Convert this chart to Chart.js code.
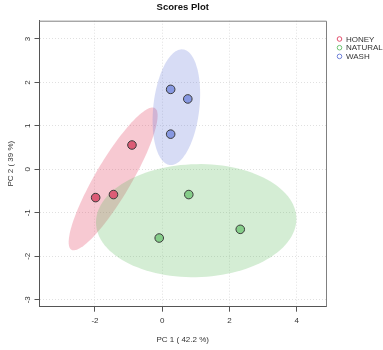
<!DOCTYPE html>
<html>
<head>
<meta charset="utf-8">
<script src="https://cdn.jsdelivr.net/npm/chart.js@4"></script>
<style>
  html, body { margin: 0; padding: 0; background: #fff; }
  #wrap { width: 383px; height: 350px; }
</style>
</head>
<body>
<div id="wrap"><canvas id="scores"></canvas></div>
<script>
// groups and their scores
const groups = ['HONEY', 'NATURAL', 'WASH'];
const honeyPc1 = [-0.90, -1.98, -1.45];
const honeyPc2 = [0.56, -0.65, -0.58];
const naturalPc1 = [0.79, 2.32, -0.09];
const naturalPc2 = [-0.58, -1.38, -1.58];
const washPc1 = [0.25, 0.76, 0.25];
const washPc2 = [1.84, 1.62, 0.81];

// confidence ellipses (centre + two conjugate semi-axes, data units)
const ellipseCx = [-1.46, 1.01, 0.42];
const ellipseCy = [-0.22, -1.18, 1.43];
const ellipseA = [[1.24, 1.63], [2.98, 0.04], [0.196, 1.33]];
const ellipseB = [[0.46, -0.21], [0, 1.30], [0.679, -0.065]];

const xTicks = [-2, 0, 2, 4];
const yTicks = [-3, -2, -1, 0, 1, 2, 3];

const pointColors = ['rgb(220,92,118)', 'rgb(133,205,137)', 'rgb(135,152,225)'];
const legendColors = ['rgb(226,80,110)', 'rgb(110,195,115)', 'rgb(110,128,215)'];
const fillColors = ['rgba(230,75,107,0.3)', 'rgba(97,190,97,0.27)', 'rgba(97,117,217,0.25)'];

function toPoints(xs, ys) {
  return xs.map((v, i) => ({ x: v, y: ys[i] }));
}

const ellipsePlugin = {
  id: 'ellipses',
  beforeDatasetsDraw(chart) {
    const { ctx, chartArea, scales } = chart;
    ctx.save();
    ctx.beginPath();
    ctx.rect(chartArea.left, chartArea.top, chartArea.right - chartArea.left, chartArea.bottom - chartArea.top);
    ctx.clip();
    for (let k = 0; k < groups.length; k++) {
      ctx.beginPath();
      for (let i = 0; i <= 120; i++) {
        const t = i / 120 * Math.PI * 2;
        const dx = ellipseCx[k] + ellipseA[k][0] * Math.cos(t) + ellipseB[k][0] * Math.sin(t);
        const dy = ellipseCy[k] + ellipseA[k][1] * Math.cos(t) + ellipseB[k][1] * Math.sin(t);
        const px = scales.x.getPixelForValue(dx);
        const py = scales.y.getPixelForValue(dy);
        if (i === 0) ctx.moveTo(px, py); else ctx.lineTo(px, py);
      }
      ctx.closePath();
      ctx.fillStyle = fillColors[k];
      ctx.fill();
    }
    ctx.restore();
  },
  afterDraw(chart) {
    const { ctx, chartArea } = chart;
    ctx.save();
    // box
    ctx.strokeStyle = '#808080';
    ctx.lineWidth = 1;
    ctx.beginPath();
    ctx.moveTo(chartArea.left, chartArea.top + 0.5);
    ctx.lineTo(chartArea.right + 0.5, chartArea.top + 0.5);
    ctx.lineTo(chartArea.right + 0.5, chartArea.bottom);
    ctx.stroke();
    // legend
    ctx.font = '8px "Liberation Sans", Arial, sans-serif';
    ctx.textBaseline = 'middle';
    ctx.textAlign = 'left';
    groups.forEach((g, i) => {
      const y = 39 + i * 8.7;
      ctx.beginPath();
      ctx.arc(339.5, y, 2.3, 0, Math.PI * 2);
      ctx.strokeStyle = legendColors[i];
      ctx.lineWidth = 1;
      ctx.stroke();
      ctx.fillStyle = '#333';
      ctx.fillText(g, 346, y + 0.5);
    });
    ctx.restore();
  }
};

const axisFont = { family: '"Liberation Sans", Arial, sans-serif', size: 8 };

const chart = new Chart(document.getElementById('scores'), {
  type: 'scatter',
  data: {
    datasets: [
      { label: groups[0], data: toPoints(honeyPc1, honeyPc2), backgroundColor: pointColors[0] },
      { label: groups[1], data: toPoints(naturalPc1, naturalPc2), backgroundColor: pointColors[1] },
      { label: groups[2], data: toPoints(washPc1, washPc2), backgroundColor: pointColors[2] }
    ]
  },
  options: {
    responsive: true,
    maintainAspectRatio: false,
    animation: false,
    layout: { padding: { left: 0, right: 57, top: 0, bottom: 0 } },
    elements: {
      point: { radius: 4.3, borderWidth: 1, borderColor: '#3a3a3a', hoverRadius: 4.3 }
    },
    plugins: {
      legend: { display: false },
      tooltip: { enabled: false },
      title: {
        display: true,
        text: 'Scores Plot',
        fullSize: false,
        color: '#111',
        font: { family: '"Liberation Sans", Arial, sans-serif', size: 9.5, weight: 'bold', lineHeight: 1.2 },
        padding: { top: 2, bottom: 7.3 }
      }
    },
    scales: {
      x: {
        type: 'linear',
        min: -3.65,
        max: 4.87,
        afterBuildTicks: (s) => { s.ticks = xTicks.map(v => ({ value: v })); },
        afterFit: (s) => { s.height = 43.3; },
        grid: { color: '#e0e0e0', lineWidth: 1, tickLength: 5, tickColor: '#555', tickBorderDash: [] },
        border: { display: true, color: '#555', width: 1, dash: [1, 2] },
        ticks: { font: axisFont, color: '#333', padding: 4, maxRotation: 0 },
        title: { display: true, text: 'PC 1 ( 42.2 %)', font: axisFont, color: '#333', padding: { top: 5, bottom: 5 } }
      },
      y: {
        type: 'linear',
        min: -3.16,
        max: 3.42,
        afterBuildTicks: (s) => { s.ticks = yTicks.map(v => ({ value: v })); },
        afterFit: (s) => { s.width = 39.5; },
        grid: { color: '#e0e0e0', lineWidth: 1, tickLength: 5, tickColor: '#555', tickBorderDash: [] },
        border: { display: true, color: '#555', width: 1, dash: [1, 2] },
        ticks: { font: axisFont, color: '#333', padding: 3, minRotation: 90, maxRotation: 90, crossAlign: 'center' },
        title: { display: true, text: 'PC 2 ( 39 %)', font: axisFont, color: '#333', padding: { top: 5.5, bottom: 5.5 } }
      }
    }
  },
  plugins: [ellipsePlugin]
});
</script>
</body>
</html>
